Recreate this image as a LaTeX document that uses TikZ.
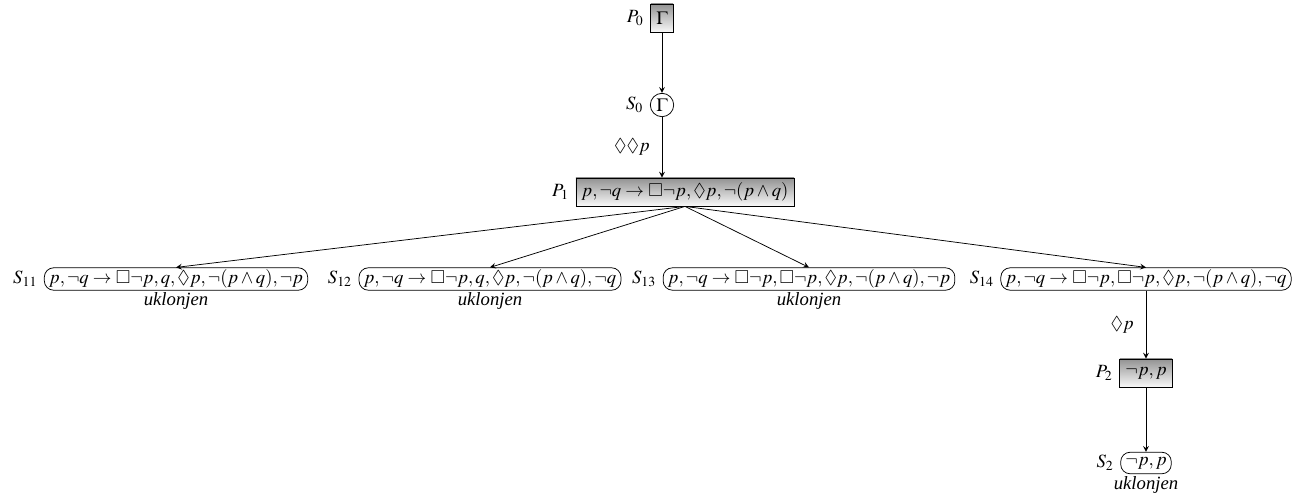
\documentclass[tikz,border=0pt]{standalone}
\usepackage{mathptmx}
\usepackage{amssymb}
\usepackage{fontspec}
\setmainfont{Liberation Serif}
\usetikzlibrary{positioning}

\tikzset{
  pbox/.style={draw, top color=gray!85, bottom color=white!95!gray, minimum height=15pt, inner xsep=3pt, inner ysep=1.5pt},
  sbox/.style={draw, rounded corners=5pt, inner xsep=2.5pt, inner ysep=1pt, minimum height=11.5pt},
  scirc/.style={draw, circle, inner sep=0.5pt, minimum size=12.5pt},
  note/.style={font=\itshape, inner sep=1pt},
}

\begin{document}
\begin{tikzpicture}[x=0.535pt, y=-0.535pt, >=stealth]
			%%%%% START %%%%%
			\useasboundingbox (0, 0) rectangle (1300, 499);
			
			\node[pbox, label={left:$P_0$}] (p0) at (662, 18) {$\Gamma$};
			\node[scirc, label={left:$S_0$}] (s0) at (662, 105) {$\Gamma$};
			\node[pbox, label={left:$P_1$}] (p1) at (685, 192) {$p, \neg q \rightarrow \Box\neg p, \Diamond p, \neg(p \wedge q)$};
			
			\node[sbox, label={left:$S_{11}$}] (s11) at (176, 279) {$p, \neg q \rightarrow \Box\neg p, q, \Diamond p, \neg(p \wedge q), \neg p$};
			\node[sbox, label={left:$S_{12}$}] (s12) at (490, 279) {$p, \neg q \rightarrow \Box\neg p, q, \Diamond p, \neg(p \wedge q), \neg q$};
			\node[sbox, label={left:$S_{13}$}] (s13) at (809, 279) {$p, \neg q \rightarrow \Box\neg p, \Box\neg p, \Diamond p, \neg(p \wedge q), \neg p$};
			\node[sbox, label={left:$S_{14}$}] (s14) at (1146, 279) {$p, \neg q \rightarrow \Box\neg p, \Box\neg p, \Diamond p, \neg(p \wedge q), \neg q$};
			
			\node[note, below=0pt of s11] (u11) {uklonjen};
			\node[note, below=0pt of s12] (u12) {uklonjen};
			\node[note, below=0pt of s13] (u13) {uklonjen};
			
			\node[pbox, label={left:$P_2$}] (p2) at (1146, 373) {$\neg p, p$};
			\node[sbox, label={left:$S_2$}] (s2) at (1146, 463) {$\neg p, p$};
			\node[note, below=0pt of s2] (u2) {uklonjen};
			
			\draw[->] (p0) -- (s0);
			\draw[->] (s0) -- node[left=3pt] {$\Diamond\Diamond p$} (s0 |- p1.north);
			\foreach \s in {s11, s12, s13, s14}
				\draw[->] (p1.south) -- (\s.north);
			\draw[->] (s14) -- node[left=3pt] {$\Diamond p$} (p2);
			\draw[->] (p2) -- (s2);
			
			%%%%% END %%%%%
\end{tikzpicture}
\end{document}
